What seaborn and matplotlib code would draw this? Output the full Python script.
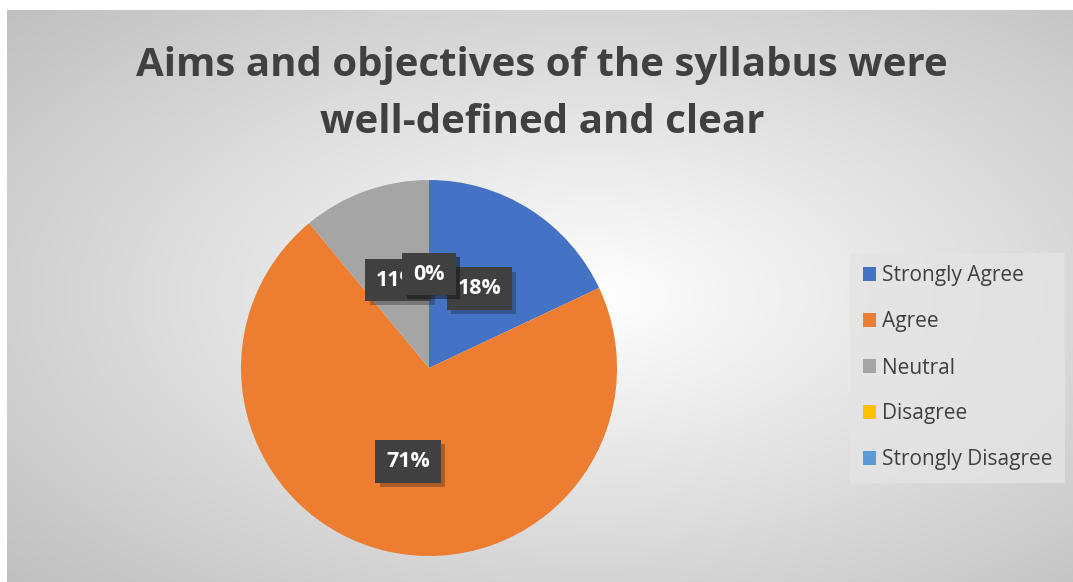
import matplotlib
matplotlib.use("Agg")
import matplotlib.pyplot as plt
import matplotlib.patheffects as pe
from matplotlib.patches import Patch
import numpy as np
import seaborn as sns

categories = ["Strongly Agree", "Agree", "Neutral", "Disagree", "Strongly Disagree"]
values = [18, 71, 11, 0, 0]
colors = ["#4472C4", "#ED7D31", "#A5A5A5", "#FFC000", "#5B9BD5"]
title = "Aims and objectives of the syllabus were\nwell-defined and clear"

sns.set_style("white")
plt.rcParams["font.family"] = ["Open Sans", "DejaVu Sans"]

fig = plt.figure(figsize=(10.73, 5.82), dpi=100)
W, H = 1073, 582

# radial gradient background of the chart area
bg = fig.add_axes([7 / W, 0, 1 - 7 / W, 1 - 10 / H])
yy, xx = np.mgrid[0:1:300j, 0:1:600j]
d = np.sqrt(((xx - 0.55) / 0.75) ** 2 + ((yy - 0.5) / 0.75) ** 2)
shade = 1 - 0.25 * np.clip(d, 0, 1)
bg.imshow(np.dstack([shade] * 3), aspect="auto", extent=[0, 1, 0, 1])
bg.set_axis_off()

fig.text(542 / W, 1 - 94 / H, title, ha="center", va="center", fontsize=29,
         fontweight="bold", color="#404040", linespacing=1.6)

# pie
r = 188
cx, cy = 429, 368
ax = fig.add_axes([(cx - r) / W, 1 - (cy + r) / H, 2 * r / W, 2 * r / H])
ax.pie(values, colors=colors, startangle=90, counterclock=False,
       wedgeprops=dict(linewidth=0))
ax.set_xlim(-1, 1)
ax.set_ylim(-1, 1)
ax.set_aspect("auto")
ax.set_axis_off()

# data labels
total = sum(values)
start = 90.0
label_r = [0.5, 0.51, 0.5, 0.5, 0.5]
for i, v in enumerate(values):
    span = v / total * 360
    mid = np.deg2rad(start - span / 2)
    start -= span
    x, y = label_r[i] * np.cos(mid), label_r[i] * np.sin(mid)
    if i == 2:
        x, y = -0.165, 0.468
    if i >= 3:
        x, y = 0.0, 0.5
    ax.text(x, y, f"{v}%", ha="center", va="center", fontsize=15.5,
            fontweight="bold", color="white", zorder=5 + i,
            bbox=dict(boxstyle="square,pad=0.5", fc="#404040", ec="none",
                      path_effects=[pe.SimplePatchShadow(offset=(3, -3), alpha=0.3),
                                    pe.Normal()]))

# legend
handles = [Patch(facecolor=c, edgecolor="none") for c in colors]
leg = fig.legend(handles, categories, loc="center left",
                 bbox_to_anchor=(850 / W, 1 - 368 / H), frameon=True,
                 fontsize=15, labelcolor="#404040", handlelength=0.65,
                 handleheight=0.65, handletextpad=0.3, labelspacing=1.2,
                 borderpad=0.6, borderaxespad=0, fancybox=False)
leg.get_frame().set_facecolor("#e4e4e4")
leg.get_frame().set_edgecolor("none")
leg.get_frame().set_alpha(0.8)

fig.savefig("out.png", dpi=100)
